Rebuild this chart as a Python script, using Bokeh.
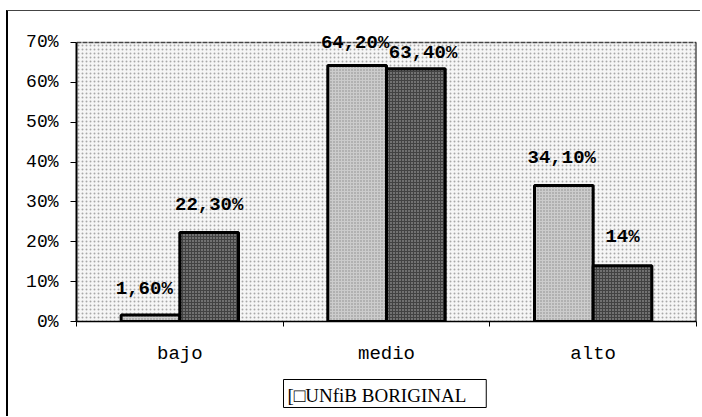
from bokeh.plotting import figure
from bokeh.models import (ColumnDataSource, Range1d, FixedTicker, Label,
                          BoxAnnotation, Title)
from bokeh.embed import file_html
from bokeh.resources import INLINE

categories = ["bajo", "medio", "alto"]
serie_a = [1.6, 64.2, 34.1]
serie_b = [22.3, 63.4, 14.0]
labels_a = ["1,60%", "64,20%", "34,10%"]
labels_b = ["22,30%", "63,40%", "14%"]
y_ticks = [0, 10, 20, 30, 40, 50, 60, 70]
stamp_text = "[\u25a1UNfiB BORIGINAL"

n = len(categories)
ymax = y_ticks[-1]
xpos = [i + 0.5 for i in range(n)]
W = 0.284
xa = [x - W / 2 for x in xpos]
xb = [x + W / 2 for x in xpos]
src = ColumnDataSource(dict(xa=xa, xb=xb, a=serie_a, b=serie_b))

FONT = "Liberation Mono"

# frame: 620 px for 3 categories, 280 px for 0..70 (4 px per %), plus headroom for labels
p = figure(width=694, height=406, output_backend="svg", toolbar_location=None,
           x_range=Range1d(0, n), y_range=Range1d(0, ymax + 31 / 4),
           min_border_left=68, min_border_right=6, min_border_top=0,
           min_border_bottom=95)
p.margin = (10, 0, 0, 6)
p.styles = {"border-left": "2px solid black", "border-top": "1px solid #444"}
p.xgrid.visible = False
p.ygrid.visible = False
p.background_fill_color = "white"
p.border_fill_color = "white"
p.outline_line_color = None

bg = BoxAnnotation(left=0, right=n, bottom=0, top=ymax,
                   fill_color="#f6f6f6", fill_alpha=1, hatch_pattern="dot",
                   hatch_color="#a8a8a8", hatch_scale=4, hatch_weight=1,
                   line_alpha=0, level="underlay")
p.add_layout(bg)

# frame lines: top (dotted) and right
p.segment(x0=[0], y0=[ymax], x1=[n], y1=[ymax], line_color="#444444",
          line_width=1.5, line_dash="5 1")
p.segment(x0=[n], y0=[0], x1=[n], y1=[ymax], line_color="black", line_width=2)

p.vbar(x="xa", top="a", width=W, source=src,
       fill_color="#cccccc", line_color="black", line_width=3,
       hatch_pattern="dot", hatch_color="#888888", hatch_scale=3, hatch_weight=1)
p.vbar(x="xb", top="b", width=W, source=src,
       fill_color="#424242", line_color="black", line_width=3,
       hatch_pattern="dot", hatch_color="#b5b5b5", hatch_scale=3, hatch_weight=1)

a_shift = [-0.03, -0.01, -0.01]
b_shift = [0.0, 0.035, 0.0]
a_off = [15, 12, 17]
b_off = [17, 5, 18]
for i in range(n):
    p.add_layout(Label(x=xa[i] + a_shift[i], y=serie_a[i], text=labels_a[i],
                       text_font=FONT, text_font_style="bold", text_font_size="19px",
                       text_color="black",
                       text_align="center", text_baseline="bottom", y_offset=a_off[i]))
    p.add_layout(Label(x=xb[i] + b_shift[i], y=serie_b[i], text=labels_b[i],
                       text_font=FONT, text_font_style="bold", text_font_size="19px",
                       text_color="black",
                       text_align="center", text_baseline="bottom", y_offset=b_off[i]))

# axes
p.yaxis.ticker = FixedTicker(ticks=y_ticks)
p.yaxis.bounds = (0, ymax)
p.yaxis.major_label_overrides = {t: f"{t}%" for t in y_ticks}
p.yaxis.major_label_text_font = FONT
p.yaxis.major_label_text_font_size = "18px"
p.yaxis.major_label_text_color = "black"
p.yaxis.axis_line_width = 2
p.yaxis.axis_line_color = "black"
p.yaxis.major_tick_out = 6
p.yaxis.major_tick_in = 0
p.yaxis.minor_tick_out = 0
p.yaxis.minor_tick_in = 0
p.yaxis.major_label_standoff = 12

p.xaxis.ticker = FixedTicker(ticks=xpos, minor_ticks=list(range(n + 1)))
p.xaxis.major_label_overrides = {x: c for x, c in zip(xpos, categories)}
p.xaxis.major_label_text_font = FONT
p.xaxis.major_label_text_font_size = "19px"
p.xaxis.major_label_text_color = "black"
p.xaxis.axis_line_width = 1.5
p.xaxis.axis_line_color = "black"
p.xaxis.major_tick_out = 0
p.xaxis.major_tick_in = 0
p.xaxis.minor_tick_out = 5
p.xaxis.minor_tick_in = 0
p.xaxis.major_label_standoff = 16

stamp = Title(text=stamp_text, align="left", offset=207,
              text_font="Liberation Serif", text_font_size="19px",
              text_font_style="normal", text_color="black",
              border_line_color="black", border_line_width=1,
              background_fill_color="white",
              padding=dict(left=4, right=20, top=5, bottom=2), standoff=20)
p.add_layout(stamp, "below")

open("out.html", "w").write(file_html(p, INLINE))
